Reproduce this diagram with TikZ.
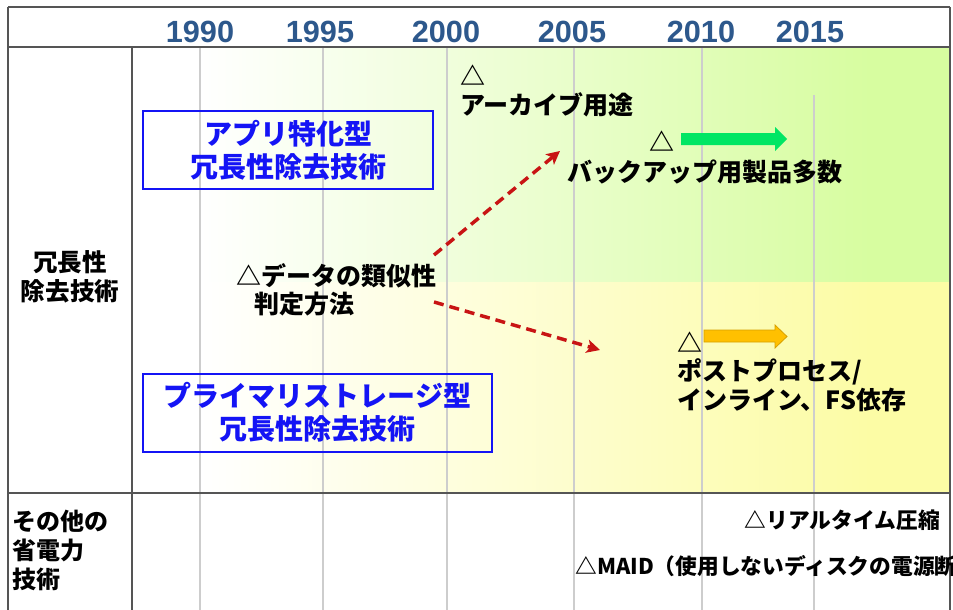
\documentclass[tikz,border=0pt]{standalone}
\usepackage{fontspec}
\setmainfont{Noto Sans CJK JP}
\newfontfamily\yrfont{Liberation Sans}
\usetikzlibrary{arrows.meta}
\definecolor{grn}{RGB}{215,253,160}
\definecolor{ylw}{RGB}{252,252,165}
\definecolor{frm}{RGB}{85,85,85}
\definecolor{grd}{RGB}{205,205,205}
\definecolor{yearc}{RGB}{45,88,140}
\definecolor{redc}{RGB}{200,20,20}
\definecolor{boxblue}{RGB}{20,20,245}
\definecolor{arrgreen}{RGB}{0,230,100}
\definecolor{arrorange}{RGB}{255,192,0}
\definecolor{arrorangeedge}{RGB}{215,160,0}
\begin{document}
\begin{tikzpicture}[x=0.75pt,y=-0.75pt,
  frameline/.style={draw=frm, line width=1.3pt},
  gridline/.style={draw=grd, line width=0.8pt},
  yearlbl/.style={font=\yrfont\fontsize{23}{26}\selectfont\bfseries, text=yearc, inner sep=0pt},
  jtext/.style={font=\fontsize{18.75}{21.4}\selectfont\bfseries, inner sep=0pt},
  smalljtext/.style={font=\fontsize{16.3}{21.75}\selectfont\bfseries, inner sep=0pt},
  bluebox/.style={draw=boxblue, line width=1.5pt, text=boxblue, align=center,
     font=\fontsize{21}{24.75}\selectfont\bfseries, minimum height=58.5pt, inner sep=0pt},
  redarrow/.style={draw=redc, line width=2.6pt, dash pattern=on 7.5pt off 4.5pt,
     -{Stealth[length=10pt,width=10pt,inset=2.5pt]}},
]
\useasboundingbox (0,0) rectangle (953,610);
\fill[white] (0,0) rectangle (953,610);
% backgrounds
\fill[white] (134,48) rectangle (200,282);
\shade[left color=white, right color=grn] (200,48) rectangle (870,282);
\fill[grn] (870,48) rectangle (950,282);
\fill[white] (134,282) rectangle (200,492);
\shade[left color=white, right color=ylw] (200,282) rectangle (870,492);
\fill[ylw] (870,282) rectangle (950,492);
% grid lines
\foreach \gx in {200,323,447,574,702} {
  \draw[gridline] (\gx,48) -- (\gx,492);
  \draw[gridline] (\gx,494) -- (\gx,610);
}
\draw[gridline] (814,95) -- (814,492);
\draw[gridline] (814,494) -- (814,610);
% frame
\draw[frameline] (8,7) -- (950,7);
\draw[frameline] (8,7) -- (8,610);
\draw[frameline] (950,7) -- (950,610);
\draw[frameline] (8,47) -- (950,47);
\draw[draw=frm, line width=1.8pt] (8,493) -- (950,493);
\draw[draw=frm, line width=1.8pt] (132,47) -- (132,610);
% years
\node[yearlbl] (y1990) at (200,32) {1990};
\node[yearlbl] (y1995) at (320,32) {1995};
\node[yearlbl] (y2000) at (446,32) {2000};
\node[yearlbl] (y2005) at (572,32) {2005};
\node[yearlbl] (y2010) at (701,32) {2010};
\node[yearlbl] (y2015) at (810,32) {2015};
% left labels
\node[font=\fontsize{18.4}{21.75}\selectfont\bfseries, align=center, inner sep=0pt] (lab1) at (70,277) {冗長性\\除去技術};
\node[smalljtext, align=left, anchor=west, font=\fontsize{18}{21.75}\selectfont\bfseries] (lab2) at (12,550) {その他の\\省電力\\技術};
% blue boxes
\node[bluebox, minimum width=217.5pt] (box1) at (288,150) {アプリ特化型\\冗長性除去技術};
\node[bluebox, minimum width=261.75pt] (box2) at (317.5,412.5) {プライマリストレージ型\\冗長性除去技術};
% similarity
\node[jtext, align=left, anchor=west] (sim) at (236,290) {△データの類似性\\\hspace*{14pt}判定方法};
\coordinate (r1s) at (434,255);
\coordinate (r1e) at (560,151);
\coordinate (r2s) at (434,302);
\coordinate (r2e) at (600,350);
\draw[redarrow] (r1s) -- (r1e);
\draw[redarrow] (r2s) -- (r2e);
% archive
\node[jtext, align=left, anchor=west] (arch) at (460,91) {△\\アーカイブ用途};
% backup
\node[jtext] (tri1) at (662,141) {△};
\node[jtext] (backup) at (705,172) {バックアップ用製品多数};
\fill[arrgreen] (681,133) -- (775,133) -- (775,127) -- (787,139) -- (775,151) -- (775,145) -- (681,145) -- cycle;
% post process
\node[jtext, align=left, anchor=west] (post) at (677,371.5) {△\\ポストプロセス/\\インライン、FS依存};
\filldraw[fill=arrorange, draw=arrorangeedge, line width=0.6pt] (704,330) -- (775,330) -- (775,325) -- (787,336.5) -- (775,348) -- (775,342) -- (704,342) -- cycle;
% bottom
\node[smalljtext, anchor=east] (rt) at (940,520) {△リアルタイム圧縮};
\node[smalljtext, anchor=west] (maid) at (575,566) {△MAID（使用しないディスクの電源断）};
\end{tikzpicture}
\end{document}
